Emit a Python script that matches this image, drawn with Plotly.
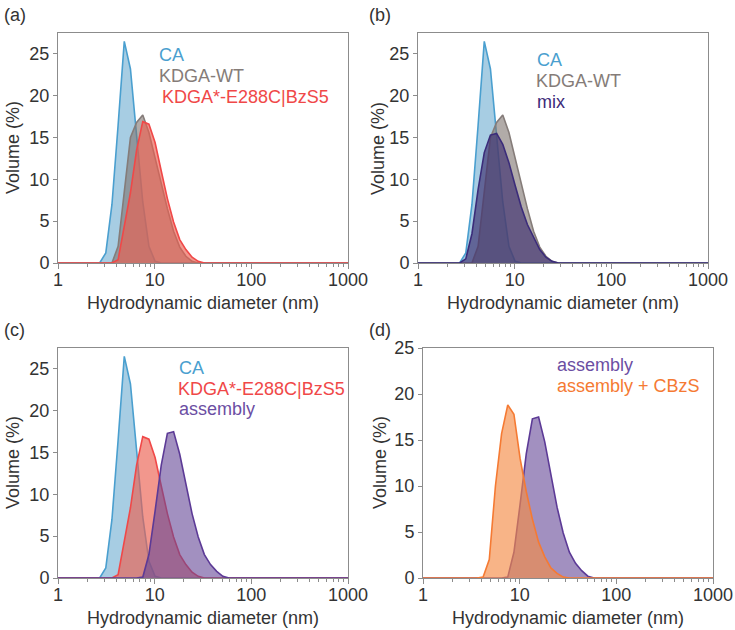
import plotly.graph_objects as go

# DLS size bins (nm)
sizes = [0.9649, 1.117, 1.294, 1.499, 1.736, 2.010, 2.328, 2.696, 3.122, 3.615,
         4.187, 4.849, 5.615, 6.503, 7.531, 8.721, 10.10, 11.70, 13.54, 15.69,
         18.17, 21.04, 24.36, 28.21, 32.67, 37.84, 43.82, 50.75, 58.77, 68.06,
         78.82, 91.28, 105.7, 122.4, 141.8, 164.2, 190.1, 220.2, 255.0, 295.3,
         342.0, 396.1, 458.7, 531.2, 615.1, 712.4, 825.0, 955.4, 1106]

ca = [0, 0, 0, 0, 0, 0, 0, 0, 1.2, 7.0,
      16.5, 26.5, 23.2, 15.5, 7.3, 2.0, 0.2, 0, 0, 0,
      0, 0, 0, 0, 0, 0, 0, 0, 0, 0,
      0, 0, 0, 0, 0, 0, 0, 0, 0, 0,
      0, 0, 0, 0, 0, 0, 0, 0, 0]
kdga_wt = [0, 0, 0, 0, 0, 0, 0, 0, 0, 0,
           2.0, 8.8, 15.0, 16.8, 17.7, 15.6, 12.5, 9.2, 6.5, 3.8,
           1.9, 0.8, 0.2, 0, 0, 0, 0, 0, 0, 0,
           0, 0, 0, 0, 0, 0, 0, 0, 0, 0,
           0, 0, 0, 0, 0, 0, 0, 0, 0]
kdga_mut = [0, 0, 0, 0, 0, 0, 0, 0, 0, 0,
            0.4, 4.3, 8.4, 13.5, 16.9, 16.6, 14.4, 11.0, 7.7, 4.9,
            2.8, 1.6, 0.7, 0.2, 0, 0, 0, 0, 0, 0,
            0, 0, 0, 0, 0, 0, 0, 0, 0, 0,
            0, 0, 0, 0, 0, 0, 0, 0, 0]
mix = [0, 0, 0, 0, 0, 0, 0, 0, 0.5, 3.5,
       8.8, 13.2, 15.3, 15.5, 14.2, 12.0, 9.3, 6.7, 4.6, 3.0,
       1.6, 0.7, 0.2, 0, 0, 0, 0, 0, 0, 0,
       0, 0, 0, 0, 0, 0, 0, 0, 0, 0,
       0, 0, 0, 0, 0, 0, 0, 0, 0]
assembly = [0, 0, 0, 0, 0, 0, 0, 0, 0, 0,
            0, 0, 0, 0, 0.1, 2.8, 8.0, 13.5, 17.3, 17.5,
            14.8, 11.2, 7.7, 4.9, 2.8, 1.6, 0.8, 0.2, 0, 0,
            0, 0, 0, 0, 0, 0, 0, 0, 0, 0,
            0, 0, 0, 0, 0, 0, 0, 0, 0]
assembly_cbzs = [0, 0, 0, 0, 0, 0, 0, 0, 0, 0,
                 0.1, 2.0, 10.0, 15.7, 18.8, 17.8, 13.0, 9.4, 6.4, 3.9,
                 2.3, 1.1, 0.5, 0.1, 0, 0, 0, 0, 0, 0,
                 0, 0, 0, 0, 0, 0, 0, 0, 0, 0,
                 0, 0, 0, 0, 0, 0, 0, 0, 0]

x_ticks = [1, 10, 100, 1000]
x_minor = [2, 3, 4, 5, 6, 7, 8, 9, 20, 30, 40, 50, 60, 70, 80, 90,
           200, 300, 400, 500, 600, 700, 800, 900]
y_ticks = [0, 5, 10, 15, 20, 25]

W, H = 735, 630
FONT = "Liberation Sans, Arial, Helvetica, sans-serif"

styles = {
    "CA": dict(line="#4a9fcf", fill="rgba(80,155,200,0.5)", text="#4a9fcf"),
    "KDGA-WT": dict(line="#857c79", fill="rgba(125,115,110,0.6)", text="#857c78"),
    "KDGA*-E288C|BzS5": dict(line="#f04848", fill="rgba(235,95,80,0.65)", text="#f04848"),
    "mix": dict(line="#3b2c7a", fill="rgba(60,45,110,0.65)", text="#3d2b7a"),
    "assembly": dict(line="#5c3a96", fill="rgba(100,70,150,0.6)", text="#6b4ea3"),
    "assembly + CBzS": dict(line="#f57a33", fill="rgba(245,140,70,0.65)", text="#f57a33"),
}
data = {"CA": ca, "KDGA-WT": kdga_wt, "KDGA*-E288C|BzS5": kdga_mut, "mix": mix,
        "assembly": assembly, "assembly + CBzS": assembly_cbzs}

# panel: (label, series, x-domain px, y-domain px, ymax, legend px, label px, y-title x px)
panels = [
    ("(a)", ["CA", "KDGA-WT", "KDGA*-E288C|BzS5"], (58, 348), (33, 263), 27.5,
     [(157, 55), (157, 76), (160, 97)], (2, 15), 13),
    ("(b)", ["CA", "KDGA-WT", "mix"], (418, 708), (33, 263), 27.5,
     [(535, 60), (534, 81), (535, 102)], (367, 15), 378),
    ("(c)", ["CA", "KDGA*-E288C|BzS5", "assembly"], (58, 348), (348, 578), 27.5,
     [(177, 368), (176, 389), (177, 409)], (2, 330), 13),
    ("(d)", ["assembly", "assembly + CBzS"], (423, 713), (348, 578), 25,
     [(555, 365), (555, 386)], (367, 330), 380),
]

fig = go.Figure()
annotations = []
for i, (lab, series, xd, yd, ymax, legpos, labpos, ytx) in enumerate(panels, start=1):
    xa = "x" if i == 1 else f"x{i}"
    ya = "y" if i == 1 else f"y{i}"
    for name in series:
        st = styles[name]
        fig.add_trace(go.Scatter(
            x=sizes, y=data[name], mode="lines", fill="tozeroy",
            fillcolor=st["fill"], line=dict(color=st["line"], width=1.6),
            xaxis=xa, yaxis=ya, showlegend=False, name=name))
    axcommon = dict(showline=True, linecolor="#8c8c8c", linewidth=1, mirror=True,
                    showgrid=False, zeroline=False, ticks="outside", automargin=False,
                    tickcolor="#8c8c8c", tickfont=dict(size=18, color="#333333", family=FONT))
    fig.layout[f"xaxis{'' if i == 1 else i}"] = dict(
        type="log", range=[0, 3], domain=[xd[0] / W, xd[1] / W],
        anchor=ya, tickvals=x_ticks, ticktext=[str(v) for v in x_ticks],
        ticklen=5, tickwidth=1, ticklabelstandoff=-5,
        minor=dict(tickvals=x_minor, ticks="outside", ticklen=3, tickcolor="#8c8c8c"),
        **axcommon)
    fig.layout[f"yaxis{'' if i == 1 else i}"] = dict(
        range=[0, ymax], domain=[1 - yd[1] / H, 1 - yd[0] / H],
        anchor=xa, tickvals=y_ticks, ticklen=4, tickwidth=1, **axcommon)
    for name, (px, py) in zip(series, legpos):
        annotations.append(dict(text=name, x=px / W, y=1 - py / H, xref="paper", yref="paper",
                                xanchor="left", yanchor="middle", showarrow=False,
                                font=dict(size=18, color=styles[name]["text"], family=FONT)))
    annotations.append(dict(text=lab, x=labpos[0] / W, y=1 - labpos[1] / H, xref="paper",
                            yref="paper", xanchor="left", yanchor="middle", showarrow=False,
                            font=dict(size=18, color="#333333", family=FONT)))
    annotations.append(dict(text="Hydrodynamic diameter (nm)", x=(xd[0] + xd[1]) / 2 / W,
                            y=1 - (yd[1] + 40) / H, xref="paper", yref="paper",
                            xanchor="center", yanchor="middle", showarrow=False,
                            font=dict(size=18, color="#333333", family=FONT)))
    annotations.append(dict(text="Volume (%)", x=ytx / W, y=1 - (yd[0] + yd[1]) / 2 / H,
                            xref="paper", yref="paper", xanchor="center", yanchor="middle",
                            textangle=-90, showarrow=False,
                            font=dict(size=18, color="#333333", family=FONT)))

fig.update_layout(width=W, height=H, margin=dict(l=0, r=0, t=0, b=0, autoexpand=False),
                  paper_bgcolor="white", plot_bgcolor="white",
                  annotations=annotations, font=dict(family=FONT))
fig.write_html("out.html", config={"displayModeBar": False},
               post_script="document.body.style.margin='0';document.body.style.overflow='hidden';")
